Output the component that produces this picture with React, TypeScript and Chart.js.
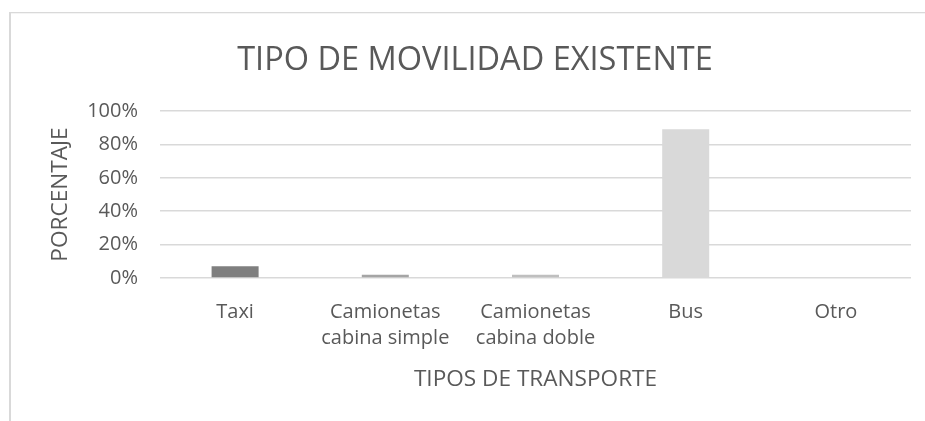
import React, { useEffect, useRef } from "react";
import { Chart, registerables } from "chart.js";

Chart.register(...registerables);

const chartTitle = "TIPO DE MOVILIDAD EXISTENTE";
const xAxisTitle = "TIPOS DE TRANSPORTE";
const yAxisTitle = "PORCENTAJE";
const categories: (string | string[])[] = [
  "Taxi",
  ["Camionetas", "cabina simple"],
  ["Camionetas", "cabina doble"],
  "Bus",
  "Otro",
];
const percentValues = [7, 2, 2, 89, 0];
const barColors = ["#7f7f7f", "#a5a5a5", "#bfbfbf", "#d9d9d9", "#ececec"];
const yTickMax = 100;
const yTickStep = 20;

const TEXT = "#595959";
const FONT = "'Open Sans', sans-serif";

const borderPlugin = {
  id: "outerBorder",
  beforeDraw(chart: any) {
    const ctx = chart.ctx;
    ctx.save();
    ctx.fillStyle = "#d9d9d9";
    ctx.fillRect(9, 12, 2, 500);
    ctx.fillRect(9, 12, 1000, 1.3);
    ctx.restore();
  },
};

export default function App() {
  const ref = useRef<HTMLCanvasElement | null>(null);
  useEffect(() => {
    if (!ref.current) return;
    const chart = new Chart(ref.current, {
      type: "bar",
      data: {
        labels: categories,
        datasets: [
          {
            data: percentValues,
            backgroundColor: barColors,
            borderWidth: 0,
            categoryPercentage: 1,
            barPercentage: 0.313,
          },
        ],
      },
      options: {
        animation: false,
        responsive: false,
        devicePixelRatio: 1,
        layout: { padding: { left: 39, right: 39, top: 0, bottom: 0 } },
        plugins: {
          legend: { display: false },
          tooltip: { enabled: false },
          title: {
            display: true,
            text: chartTitle,
            color: TEXT,
            font: { family: FONT, size: 32.5, weight: "normal", lineHeight: 1.2 },
            padding: { top: 41, bottom: 31 },
          },
        },
        scales: {
          x: {
            grid: { display: false },
            border: { display: false },
            ticks: {
              color: TEXT,
              font: { family: FONT, size: 20, lineHeight: 1.3 },
              padding: 13,
              maxRotation: 0,
              autoSkip: false,
            },
            title: {
              display: true,
              text: xAxisTitle,
              color: TEXT,
              font: { family: FONT, size: 22.6, lineHeight: 1.2 },
              padding: { top: 0, bottom: 27.5 },
            },
            afterFit(scale: any) {
              scale.height = 143;
            },
          },
          y: {
            min: 0,
            max: yTickMax,
            grid: { color: "#d9d9d9", lineWidth: 1.5, drawTicks: false },
            border: { display: false },
            ticks: {
              stepSize: yTickStep,
              color: TEXT,
              font: { family: FONT, size: 20 },
              padding: 22,
              callback: (v: any) => v + "%",
            },
            title: {
              display: true,
              text: yAxisTitle,
              color: TEXT,
              font: { family: FONT, size: 22.6, lineHeight: 1.2 },
              padding: { top: 8.4, bottom: 0 },
            },
            afterFit(scale: any) {
              scale.width = 121;
            },
          },
        },
      },
      plugins: [borderPlugin],
    });
    return () => chart.destroy();
  }, []);
  return (
    <div
      style={{
        position: "fixed",
        left: 0,
        top: 0,
        width: 925,
        height: 421,
        overflow: "hidden",
        background: "#ffffff",
      }}
    >
      <canvas ref={ref} width={950} height={421} style={{ display: "block", width: 950, height: 421 }} />
    </div>
  );
}
